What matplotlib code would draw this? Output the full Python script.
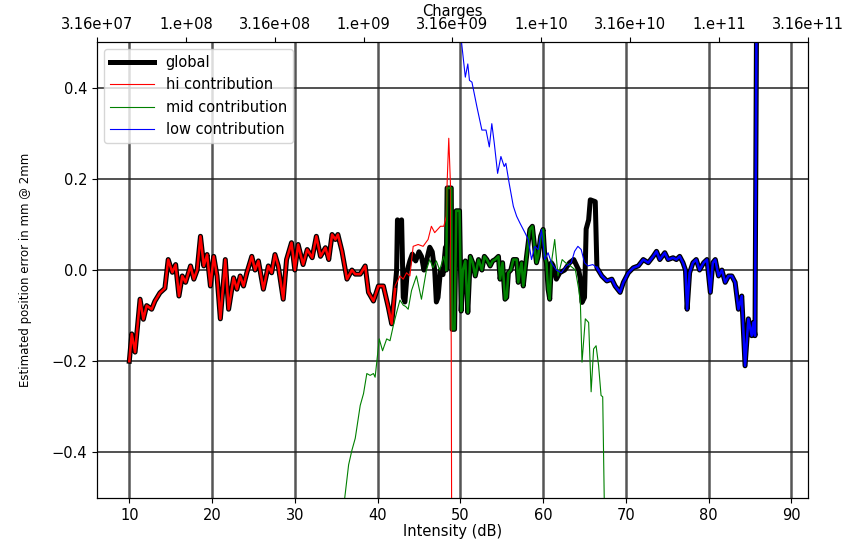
import numpy as np
import matplotlib
matplotlib.use('Agg')
import matplotlib.pyplot as plt

# global estimated error (dB, mm)
glob_db = [10.0, 10.3, 10.7, 11.3, 11.7, 12.1, 12.7, 13.1, 13.7, 14.3, 14.7, 15.2, 15.6,
           16.0, 16.4, 16.8, 17.4, 17.8, 18.2, 18.6, 19.0, 19.4, 19.8, 20.2, 20.6, 21.0,
           21.6, 22.0, 22.6, 23.0, 23.4, 23.8, 24.2, 24.8, 25.2, 25.6, 26.2, 26.8, 27.2,
           27.6, 28.0, 28.6, 29.0, 29.6, 30.0, 30.4, 31.0, 31.5, 32.1, 32.6, 33.1, 33.7,
           34.1, 34.5, 34.9, 35.2, 35.7, 36.3, 36.9, 37.3, 37.9, 38.5, 38.9, 39.5, 40.1,
           40.7, 41.3, 41.7, 42.1,
           42.3, 42.4, 42.7, 42.9, 43.1, 43.3, 43.6, 43.9, 44.2, 44.6, 45.0, 45.3, 45.6,
           45.9, 46.3, 46.6, 46.9, 47.1, 47.3, 47.6, 47.9, 48.2,
           48.3, 48.4, 48.9, 49.0, 49.3, 49.5, 49.9, 50.1, 50.3, 50.6, 50.9, 51.2, 51.5,
           51.8, 52.2, 52.6, 52.9, 53.2, 53.6, 53.9, 54.2, 54.6, 54.8, 55.1, 55.4, 55.6,
           55.8, 56.1, 56.4, 56.8, 57.0, 57.2, 57.4, 57.6, 58.0, 58.4, 58.7, 59.0, 59.2,
           59.4, 59.7, 60.0, 60.2, 60.4, 60.6, 60.8, 61.0,
           61.2, 61.6, 62.0, 62.6, 63.2, 63.7, 64.3, 64.5, 64.7, 65.0, 65.2, 65.5, 65.7,
           66.3,
           66.5, 67.1, 67.7, 68.3, 68.7, 69.3, 69.7, 70.3, 70.9, 71.5, 72.1, 72.7, 73.3,
           73.7, 74.1, 74.7, 75.1, 75.7, 76.1, 76.5, 76.9, 77.2, 77.4, 77.7, 78.1, 78.5,
           78.9, 79.4, 79.8, 80.2, 80.5, 80.8, 81.2, 81.6, 82.0, 82.4, 82.8, 83.2, 83.6,
           84.0, 84.4, 84.8, 85.2, 85.4, 85.6, 85.8, 86.2]
glob_err = [-0.200, -0.140, -0.180, -0.064, -0.108, -0.078, -0.086, -0.068, -0.050, -0.040,
            0.023, -0.005, 0.012, -0.057, -0.013, -0.027, 0.009, -0.020, 0.000, 0.074,
            0.009, 0.034, -0.035, 0.030, -0.013, -0.107, 0.023, -0.086, -0.017, -0.042,
            -0.013, -0.035, -0.006, 0.030, 0.000, 0.020, -0.042, 0.009, -0.006, 0.034,
            0.009, -0.064, 0.023, 0.060, 0.000, 0.056, 0.012, 0.045, 0.027, 0.074, 0.030,
            0.049, 0.023, 0.078, 0.067, 0.078, 0.041, -0.020, 0.000, -0.009, -0.009, 0.009,
            -0.049, -0.068, -0.035, -0.035, -0.082, -0.118, -0.042,
            0.000, 0.110, 0.100, 0.110, -0.060, -0.070, 0.000, 0.020, 0.035, 0.020, 0.040,
            0.030, 0.000, 0.020, 0.050, 0.040, 0.000, -0.070, -0.060, 0.000, -0.010, 0.050,
            0.000, 0.180, 0.180, -0.130, -0.130, 0.130, 0.130, -0.090, 0.000, 0.020, -0.093,
            0.030, 0.016, -0.013, 0.023, 0.000, 0.030, 0.023, 0.009, 0.020, 0.023, 0.030,
            -0.020, 0.016, -0.064, -0.060, -0.006, 0.000, 0.023, 0.023, -0.027, 0.000, 0.016,
            -0.035, 0.030, 0.089, 0.096, 0.045, 0.016, 0.030, 0.074, 0.089, 0.030, 0.016,
            -0.042, -0.064, 0.016,
            0.010, -0.020, -0.006, 0.000, 0.016, 0.023, 0.000, -0.020, -0.071, -0.060,
            0.090, 0.110, 0.154, 0.150,
            0.005, -0.013, -0.024, -0.020, -0.035, -0.049, -0.027, -0.006, 0.005, 0.009,
            0.023, 0.016, 0.030, 0.041, 0.023, 0.038, 0.023, 0.027, 0.023, 0.030, 0.016,
            0.000, -0.086, -0.006, 0.016, 0.023, 0.000, 0.016, 0.023, -0.049, 0.016, 0.023,
            -0.013, 0.000, -0.027, -0.013, -0.013, -0.027, -0.086, -0.057, -0.210, -0.107,
            -0.144, -0.115, -0.144, 0.600, 1.200]

# hi contribution after it leaves the global curve
hi_tail_db = [42.1, 42.7, 43.1, 43.5, 43.9, 44.3, 44.9, 45.5, 46.1, 46.5, 46.9, 47.6, 48.0,
              48.3, 48.4, 48.6, 48.8, 48.9, 49.0]
hi_tail_err = [-0.035, -0.013, -0.020, -0.006, -0.013, 0.052, 0.056, 0.052, 0.067, 0.096,
               0.082, 0.096, 0.096, 0.118, 0.190, 0.289, 0.190, -0.170, -1.000]

# mid contribution before / after it follows the global curve
mid_head_db = [35.9, 36.5, 36.9, 37.3, 37.9, 38.3, 38.7, 39.1, 39.5, 39.7, 39.9, 40.2, 40.6,
               41.1, 41.5, 41.9, 42.3, 42.7, 43.1, 43.4, 43.7, 44.1, 44.7, 45.3, 45.9, 46.3,
               46.7, 47.1, 47.5, 48.0]
mid_head_err = [-0.520, -0.427, -0.395, -0.369, -0.297, -0.271, -0.227, -0.231, -0.227,
                -0.235, -0.202, -0.151, -0.177, -0.151, -0.155, -0.122, -0.093, -0.066,
                -0.077, -0.080, -0.086, -0.045, -0.013, -0.064, 0.000, 0.023, 0.005, 0.020,
                0.000, 0.030]
mid_tail_db = [61.4, 61.8, 62.3, 62.7, 63.3, 63.9, 64.3, 64.5, 64.7, 65.1, 65.5, 65.8, 66.1,
               66.4, 66.7, 67.0, 67.2, 67.4]
mid_tail_err = [0.067, -0.013, 0.023, 0.016, 0.009, 0.000, -0.042, -0.071, -0.202, -0.107,
                -0.115, -0.267, -0.173, -0.166, -0.209, -0.275, -0.278, -0.520]

# low contribution before it joins the global curve
low_head_db = [49.9, 50.6, 50.9, 51.1, 51.4, 52.0, 52.6, 53.1, 53.5, 53.8, 54.1, 54.5, 54.9,
               55.3, 55.5, 55.9, 56.4, 56.8, 57.2, 57.8, 58.2, 58.6, 59.0, 59.4, 59.8, 60.2,
               60.6, 61.0, 61.6, 62.2, 62.8, 63.4, 63.8, 64.2, 64.6, 65.0, 65.4, 66.0]
low_head_err = [0.540, 0.423, 0.452, 0.416, 0.412, 0.358, 0.307, 0.307, 0.270, 0.321, 0.278,
                0.212, 0.249, 0.227, 0.234, 0.190, 0.140, 0.118, 0.103, 0.082, 0.067, 0.023,
                0.052, 0.045, 0.089, 0.023, 0.038, 0.016, 0.000, -0.006, 0.009, 0.016, 0.041,
                0.052, 0.045, 0.016, 0.009, 0.012]

charge_labels = ['3.16e+07', '1.e+08', '3.16e+08', '1.e+09', '3.16e+09',
                 '1.e+10', '3.16e+10', '1.e+11', '3.16e+11']

gx = np.array(glob_db)
gy = np.array(glob_err)


def part(lo, hi):
    m = (gx >= lo) & (gx <= hi)
    return gx[m], gy[m]


fig = plt.figure(figsize=(8.54, 5.39), dpi=100)
ax = fig.add_axes([0.1136, 0.076, 0.8325, 0.846])

ax.plot(gx, gy, color='k', lw=3.6, label='global', zorder=3)

# segments where global == one contribution
for lo, hi, c in [(10, 42.1, 'r'), (48.3, 61.0, 'g'), (66.5, 90, 'b')]:
    sx, sy = part(lo, hi)
    ax.plot(sx, sy, color=c, lw=1.8, zorder=4)

hx, hy = part(10, 42.0)
ax.plot(np.r_[hx, hi_tail_db], np.r_[hy, hi_tail_err], color='r', lw=0.8,
        label='hi contribution', zorder=5)
mx, my = part(48.3, 61.0)
ax.plot(np.r_[mid_head_db, mx, mid_tail_db], np.r_[mid_head_err, my, mid_tail_err],
        color='g', lw=0.8, label='mid contribution', zorder=5)
lx, ly = part(66.5, 90)
ax.plot(np.r_[low_head_db, lx], np.r_[low_head_err, ly], color='b', lw=0.8,
        label='low contribution', zorder=5)

ax.set_xlim(6.1, 92.0)
ax.set_ylim(-0.5, 0.5)
ax.set_xticks(range(10, 100, 10))
ax.set_yticks([-0.4, -0.2, 0.0, 0.2, 0.4])
ax.grid(axis='x', color='#555555', lw=1.8)
ax.grid(axis='y', color='#222222', lw=1.1)
ax.tick_params(labelsize=10.5)
ax.set_xlabel('Intensity (dB)', fontsize=10.5, labelpad=1)
ax.set_ylabel('Estimated position error in mm @ 2mm', fontsize=8.5, labelpad=14)
ax.legend(loc='upper left', fontsize=10.5, handlelength=3)

top = ax.twiny()
top.set_xlim(0, len(charge_labels) - 1)
top.set_xticks(range(len(charge_labels)))
top.set_xticklabels(charge_labels, fontsize=10.5)
top.set_xlabel('Charges', fontsize=10.5, labelpad=1)

plt.savefig('out.png', dpi=100)
